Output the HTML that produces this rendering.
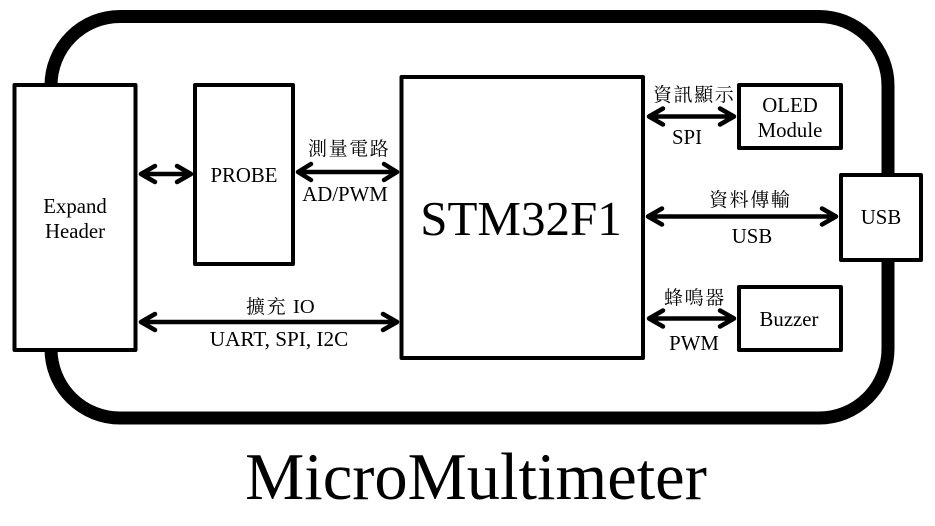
<!DOCTYPE html>
<html>
<head>
<meta charset="utf-8">
<style>
html,body{margin:0;padding:0;background:#fff;}
svg{display:block;}
text{font-family:"Liberation Serif","Noto Serif CJK SC",serif;fill:#000;}
.l{font-size:20.8px;text-anchor:middle;}
.c{font-size:19px;letter-spacing:1.6px;}
.a{fill:none;stroke:#000;stroke-width:4.5;stroke-linecap:round;stroke-linejoin:round;}
.b{fill:#fff;stroke:#000;stroke-width:4;stroke-linejoin:round;}
</style>
</head>
<body>
<svg width="935" height="526" viewBox="0 0 935 526" xmlns="http://www.w3.org/2000/svg">
<rect x="0" y="0" width="935" height="526" fill="#fff"/>
<rect x="51" y="16.5" width="837" height="401.5" rx="69" ry="69" fill="#fff" stroke="#000" stroke-width="13"/>

<rect class="b" x="14.5" y="85" width="121" height="265"/>
<rect class="b" x="195" y="85" width="98" height="179"/>
<rect class="b" x="401.5" y="77" width="241.5" height="281"/>
<rect class="b" x="739" y="85" width="102" height="63"/>
<rect class="b" x="841" y="175" width="80" height="85"/>
<rect class="b" x="739" y="287" width="102" height="63"/>

<path class="a" d="M141 174H191M155 166L141 174L155 182M177 166L191 174L177 182"/>
<path class="a" d="M298 172H397M311 164L298 172L311 180M384 164L397 172L384 180"/>
<path class="a" d="M141 322H397M155 314L141 322L155 330M383 314L397 322L383 330"/>
<path class="a" d="M649 116.5H734M663 108.5L649 116.5L663 124.5M720 108.5L734 116.5L720 124.5"/>
<path class="a" d="M648 216.5H836M662 208.5L648 216.5L662 224.5M822 208.5L836 216.5L822 224.5"/>
<path class="a" d="M649 318.5H734M663 310.5L649 318.5L663 326.5M720 310.5L734 318.5L720 326.5"/>

<text class="l" x="75" y="213">Expand</text>
<text class="l" x="75" y="238">Header</text>
<text class="l" x="244" y="182">PROBE</text>
<text class="l" x="345" y="201">AD/PWM</text>
<text class="c" x="308" y="155">測量電路</text>
<text class="c" x="246" y="313">擴充<tspan x="293" style="letter-spacing:0;font-size:20.5px">IO</tspan></text>
<text class="l" x="279" y="346" style="font-size:21.2px">UART, SPI, I2C</text>
<text x="521" y="235" style="font-size:49px;text-anchor:middle">STM32F1</text>
<text class="c" x="653" y="101">資訊顯示</text>
<text class="l" x="687" y="144">SPI</text>
<text class="l" x="790" y="112">OLED</text>
<text class="l" x="790" y="137">Module</text>
<text class="c" x="709" y="206">資料傳輸</text>
<text class="l" x="752" y="243">USB</text>
<text class="l" x="881" y="224">USB</text>
<text class="c" x="664" y="304">蜂鳴器</text>
<text class="l" x="694" y="350">PWM</text>
<text class="l" x="789" y="326">Buzzer</text>
<text x="476" y="499" style="font-size:66.5px;text-anchor:middle">MicroMultimeter</text>
</svg>
</body>
</html>
